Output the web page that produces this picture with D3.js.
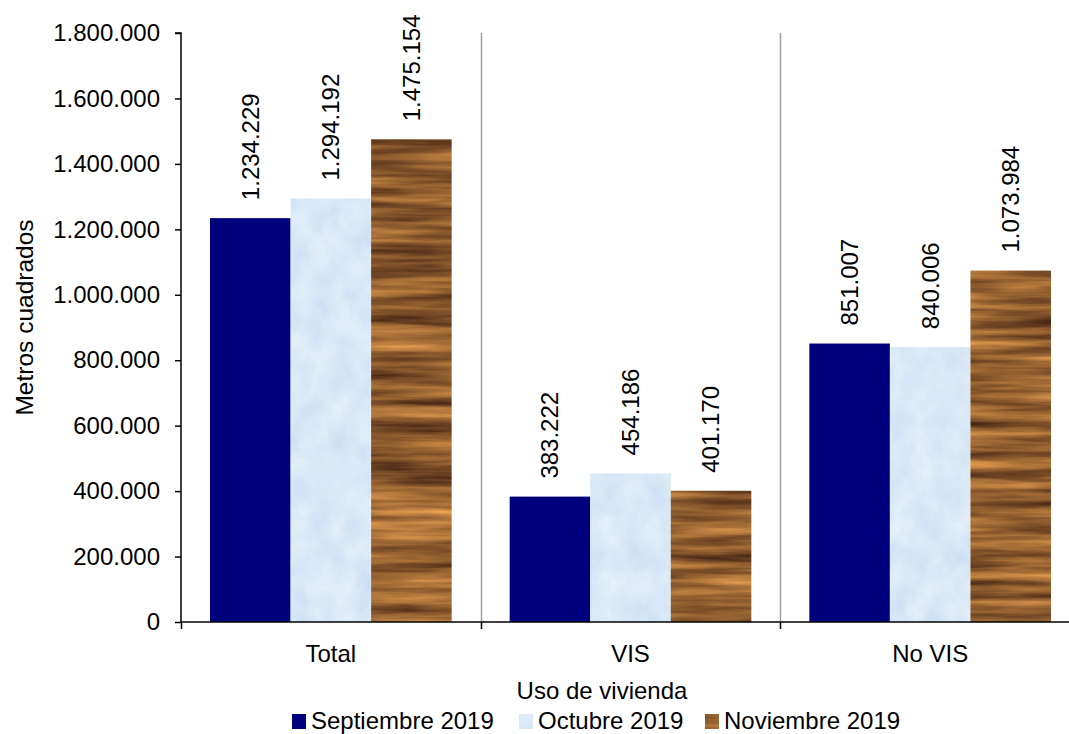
<!DOCTYPE html>
<html>
<head>
<meta charset="utf-8">
<script src="https://cdn.jsdelivr.net/npm/d3@7"></script>
<style>
  html, body { margin: 0; padding: 0; background: #fff; }
  svg { display: block; }
  text { font-family: "Liberation Sans", Arial, sans-serif; fill: #000; }
</style>
</head>
<body>
<svg id="chart" width="1069" height="734"></svg>
<script>
// Área construida por uso de vivienda (metros cuadrados)
const categories = ["Total", "VIS", "No VIS"];
const seriesNames = ["Septiembre 2019", "Octubre 2019", "Noviembre 2019"];
const septiembre = [1234229, 383222, 851007];
const octubre = [1294192, 454186, 840006];
const noviembre = [1475154, 401170, 1073984];
const yTicks = [0, 200000, 400000, 600000, 800000, 1000000, 1200000, 1400000, 1600000, 1800000];

const seriesValues = [septiembre, octubre, noviembre];

const svg = d3.select("#chart");
const W = 1069, H = 734;
const margin = { left: 181, right: 0, top: 33, bottom: 112 };
const plotRight = 1080;
const y0 = H - margin.bottom;

const locale = d3.formatLocale({ decimal: ",", thousands: ".", grouping: [3], currency: ["$", ""] });
const fmt = locale.format(",.0f");

// Bar textures: flat navy, pale frosted blue, wood grain
const defs = svg.append("defs");

const frost = defs.append("filter").attr("id", "frost")
  .attr("x", 0).attr("y", 0).attr("width", 1).attr("height", 1)
  .attr("color-interpolation-filters", "sRGB");
frost.append("feTurbulence").attr("type", "fractalNoise")
  .attr("baseFrequency", "0.045 0.035").attr("numOctaves", 3).attr("seed", 7).attr("result", "n");
frost.append("feColorMatrix").attr("in", "n").attr("type", "matrix")
  .attr("values", "0.14 0 0 0 0.78  0.1 0 0 0 0.86  0.04 0 0 0 0.945  0 0 0 0 1").attr("result", "c");
frost.append("feComposite").attr("in", "c").attr("in2", "SourceGraphic").attr("operator", "in");

const wood = defs.append("filter").attr("id", "wood")
  .attr("x", 0).attr("y", 0).attr("width", 1).attr("height", 1)
  .attr("color-interpolation-filters", "sRGB");
wood.append("feTurbulence").attr("type", "fractalNoise")
  .attr("baseFrequency", "0.006 0.1").attr("numOctaves", 4).attr("seed", 3).attr("result", "n");
wood.append("feColorMatrix").attr("in", "n").attr("type", "matrix")
  .attr("values", "0.85 0 0 0 0.15  0.65 0 0 0 0.05  0.32 0 0 0 0.03  0 0 0 0 1").attr("result", "c");
wood.append("feComposite").attr("in", "c").attr("in2", "SourceGraphic").attr("operator", "in");

const seriesStyle = [
  { fill: "#00007c", filter: null },
  { fill: "#dae8f8", filter: "url(#frost)" },
  { fill: "#8f5c30", filter: "url(#wood)" }
];

const x = d3.scaleBand().domain(categories).range([margin.left, plotRight]).padding(0);
const xs = d3.scaleBand().domain(seriesNames).range([0, x.bandwidth()])
  .paddingInner(0).paddingOuter(0.36);
const y = d3.scaleLinear().domain([0, 1800000]).range([y0, margin.top]);

// Category separators
svg.append("g").selectAll("line")
  .data(categories.slice(1))
  .join("line")
  .attr("x1", d => Math.round(x(d)) + 0.5).attr("x2", d => Math.round(x(d)) + 0.5)
  .attr("y1", margin.top).attr("y2", y0)
  .attr("stroke", "#a0a0a0").attr("stroke-width", 1.5);

// Bars
const data = [];
categories.forEach((c, i) => seriesNames.forEach((s, j) => data.push({ c, s, j, v: seriesValues[j][i] })));

svg.append("g").selectAll("rect")
  .data(data)
  .join("rect")
  .attr("x", d => x(d.c) + xs(d.s))
  .attr("y", d => y(d.v))
  .attr("width", xs.bandwidth())
  .attr("height", d => y0 - y(d.v))
  .attr("fill", d => seriesStyle[d.j].fill)
  .attr("filter", d => seriesStyle[d.j].filter);

// Value labels
svg.append("g").selectAll("text")
  .data(data)
  .join("text")
  .attr("transform", d => `translate(${x(d.c) + xs(d.s) + xs.bandwidth() / 2},${y(d.v) - 18}) rotate(-90)`)
  .attr("dy", "0.35em")
  .attr("text-anchor", "start")
  .style("font-size", "24px")
  .text(d => fmt(d.v));

// Y axis
const yAxis = d3.axisLeft(y).tickValues(yTicks).tickSize(6).tickPadding(15).tickFormat(fmt);
const gy = svg.append("g").attr("transform", `translate(${margin.left},0)`).call(yAxis);
gy.select(".domain").attr("stroke", "#000").attr("stroke-width", 1.5).attr("d", `M-6,${margin.top}H0V${y0}`);
gy.selectAll(".tick line").attr("stroke", "#000").attr("stroke-width", 1.5);
gy.selectAll(".tick text").style("font-size", "24px").attr("font-family", null);

// X axis
const gx = svg.append("g").attr("transform", `translate(0,${y0})`);
gx.append("line").attr("x1", margin.left).attr("x2", plotRight).attr("stroke", "#000").attr("stroke-width", 1.5);
gx.selectAll(".bt").data(categories.concat(["__end"]))
  .join("line").attr("class", "bt")
  .attr("x1", (d, i) => i < categories.length ? Math.round(x(d)) + 0.5 : plotRight)
  .attr("x2", (d, i) => i < categories.length ? Math.round(x(d)) + 0.5 : plotRight)
  .attr("y1", 0).attr("y2", 7)
  .attr("stroke", "#000").attr("stroke-width", 1.5);
gx.selectAll(".cl").data(categories)
  .join("text").attr("class", "cl")
  .attr("x", d => x(d) + x.bandwidth() / 2)
  .attr("y", 40)
  .attr("text-anchor", "middle")
  .style("font-size", "24px")
  .text(d => d);

// Axis titles
svg.append("text")
  .attr("transform", `translate(33,${(margin.top + y0) / 2 - 10}) rotate(-90)`)
  .attr("text-anchor", "middle")
  .style("font-size", "24.5px")
  .text("Metros cuadrados");

svg.append("text")
  .attr("x", 602).attr("y", 699)
  .attr("text-anchor", "middle")
  .style("font-size", "24px")
  .text("Uso de vivienda");

// Legend
const legendPos = [292, 519, 705];
const lg = svg.append("g").selectAll("g")
  .data(seriesNames)
  .join("g")
  .attr("transform", (d, i) => `translate(${legendPos[i]},714)`);
lg.append("rect")
  .attr("width", 14).attr("height", 15)
  .attr("fill", (d, i) => seriesStyle[i].fill)
  .attr("filter", (d, i) => seriesStyle[i].filter);
lg.append("text")
  .attr("x", 19).attr("y", 15)
  .style("font-size", "24px")
  .text(d => d);
</script>
</body>
</html>
